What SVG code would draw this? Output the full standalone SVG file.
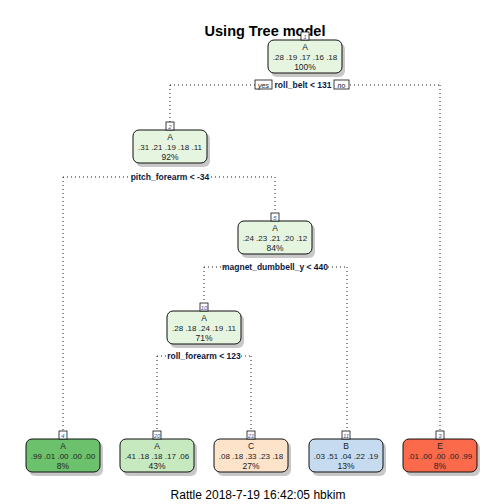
<svg xmlns="http://www.w3.org/2000/svg" width="504" height="504" viewBox="0 0 504 504">
<style>
text{font-family:"Liberation Sans",Arial,sans-serif;}
.t{font-size:8.5px;fill:#222;text-anchor:middle;}
.p{font-size:8px;fill:#222;text-anchor:middle;}
.s{font-size:8.5px;font-weight:bold;fill:#0a1a44;text-anchor:middle;}
.n{font-size:6px;fill:#3355aa;text-anchor:middle;font-style:italic;}
.box{stroke:#111;stroke-width:1;}
.sh{fill:#c8c8c8;}
.nb{fill:#fff;stroke:#111;stroke-width:0.8;}
.c{fill:none;stroke:#222;stroke-width:1;stroke-dasharray:1 3;}
</style>
<rect width="504" height="504" fill="#fff"/>
<text x="265" y="36" style="font-size:14.5px;font-weight:bold;text-anchor:middle;fill:#000">Using Tree model</text>
<g id="connectors">
<path class="c" d="M170,85 H440 M170,85 V122 M440,85 V430"/>
<path class="c" d="M63,177 H275 M63,177 V431 M275,177 V213"/>
<path class="c" d="M204,267 H347 M204,267 V303 M347,267 V431"/>
<path class="c" d="M157,356 H251 M157,356 V431 M251,356 V431"/>
<rect x="255" y="80" width="17" height="9" fill="#fff" stroke="#111" stroke-width="0.8"/>
<text x="263.5" y="87.5" style="font-size:7px;font-style:italic;text-anchor:middle;fill:#111">yes</text>
<rect x="334" y="80" width="15" height="9" fill="#fff" stroke="#111" stroke-width="0.8"/>
<text x="341.5" y="87.5" style="font-size:7px;font-style:italic;text-anchor:middle;fill:#111">no</text>
<rect x="274" y="81" width="58" height="8" fill="#fff"/>
<text class="s" x="303" y="88">roll_belt &lt; 131</text>
<rect x="132" y="173" width="76" height="8" fill="#fff"/>
<text class="s" x="170" y="180">pitch_forearm &lt; -34</text>
<rect x="226" y="263" width="98" height="8" fill="#fff"/>
<text class="s" x="275" y="270">magnet_dumbbell_y &lt; 440</text>
<rect x="169" y="352" width="70" height="8" fill="#fff"/>
<text class="s" x="204" y="359">roll_forearm &lt; 123</text>
</g>
<g id="node1">
<rect class="sh" x="271" y="43" width="74" height="34" rx="6"/>
<rect class="box" x="268" y="40" width="74" height="33" rx="6" fill="#e5f5e0"/>
<rect class="nb" x="301" y="32" width="8" height="8"/>
<text class="n" x="305" y="38.5">1</text>
<text class="t" x="305" y="50">A</text>
<text class="p" x="305" y="60">.28  .19  .17  .16  .18</text>
<text class="t" x="305" y="70">100%</text>
</g>
<g id="node2">
<rect class="sh" x="136" y="133" width="74" height="34" rx="6"/>
<rect class="box" x="133" y="130" width="74" height="33" rx="6" fill="#e5f5e0"/>
<rect class="nb" x="166" y="122" width="8" height="8"/>
<text class="n" x="170" y="128.5">2</text>
<text class="t" x="170" y="140">A</text>
<text class="p" x="170" y="150">.31  .21  .19  .18  .11</text>
<text class="t" x="170" y="160">92%</text>
</g>
<g id="node5">
<rect class="sh" x="241" y="224" width="74" height="34" rx="6"/>
<rect class="box" x="238" y="221" width="74" height="33" rx="6" fill="#e5f5e0"/>
<rect class="nb" x="271" y="213" width="8" height="8"/>
<text class="n" x="275" y="219.5">5</text>
<text class="t" x="275" y="231">A</text>
<text class="p" x="275" y="241">.24  .23  .21  .20  .12</text>
<text class="t" x="275" y="251">84%</text>
</g>
<g id="node10">
<rect class="sh" x="170" y="314" width="74" height="34" rx="6"/>
<rect class="box" x="167" y="311" width="74" height="33" rx="6" fill="#e5f5e0"/>
<rect class="nb" x="200" y="303" width="8" height="8"/>
<text class="n" x="204" y="309.5">10</text>
<text class="t" x="204" y="321">A</text>
<text class="p" x="204" y="331">.28  .18  .24  .19  .11</text>
<text class="t" x="204" y="341">71%</text>
</g>
<g id="node4">
<rect class="sh" x="29" y="442" width="74" height="34" rx="6"/>
<rect class="box" x="26" y="439" width="74" height="33" rx="6" fill="#6cc16c"/>
<rect class="nb" x="59" y="431" width="8" height="8"/>
<text class="n" x="63" y="437.5">4</text>
<text class="t" x="63" y="449">A</text>
<text class="p" x="63" y="459">.99  .01  .00  .00  .00</text>
<text class="t" x="63" y="469">8%</text>
</g>
<g id="node20">
<rect class="sh" x="123" y="442" width="74" height="34" rx="6"/>
<rect class="box" x="120" y="439" width="74" height="33" rx="6" fill="#c7e9c0"/>
<rect class="nb" x="153" y="431" width="8" height="8"/>
<text class="n" x="157" y="437.5">20</text>
<text class="t" x="157" y="449">A</text>
<text class="p" x="157" y="459">.41  .18  .18  .17  .06</text>
<text class="t" x="157" y="469">43%</text>
</g>
<g id="node21">
<rect class="sh" x="217" y="442" width="74" height="34" rx="6"/>
<rect class="box" x="214" y="439" width="74" height="33" rx="6" fill="#fee3cb"/>
<rect class="nb" x="247" y="431" width="8" height="8"/>
<text class="n" x="251" y="437.5">21</text>
<text class="t" x="251" y="449">C</text>
<text class="p" x="251" y="459">.08  .18  .33  .23  .18</text>
<text class="t" x="251" y="469">27%</text>
</g>
<g id="node11">
<rect class="sh" x="312" y="442" width="74" height="34" rx="6"/>
<rect class="box" x="309" y="439" width="74" height="33" rx="6" fill="#c6dbef"/>
<rect class="nb" x="342" y="431" width="8" height="8"/>
<text class="n" x="346" y="437.5">11</text>
<text class="t" x="346" y="449">B</text>
<text class="p" x="346" y="459">.03  .51  .04  .22  .19</text>
<text class="t" x="346" y="469">13%</text>
</g>
<g id="node3">
<rect class="sh" x="406" y="442" width="74" height="34" rx="6"/>
<rect class="box" x="403" y="439" width="74" height="33" rx="6" fill="#fb6a4a"/>
<rect class="nb" x="436" y="431" width="8" height="8"/>
<text class="n" x="440" y="437.5">3</text>
<text class="t" x="440" y="449">E</text>
<text class="p" x="440" y="459">.01  .00  .00  .00  .99</text>
<text class="t" x="440" y="469">8%</text>
</g>
<text x="258" y="499" style="font-size:12px;text-anchor:middle;fill:#000">Rattle 2018-7-19 16:42:05 hbkim</text>
</svg>
